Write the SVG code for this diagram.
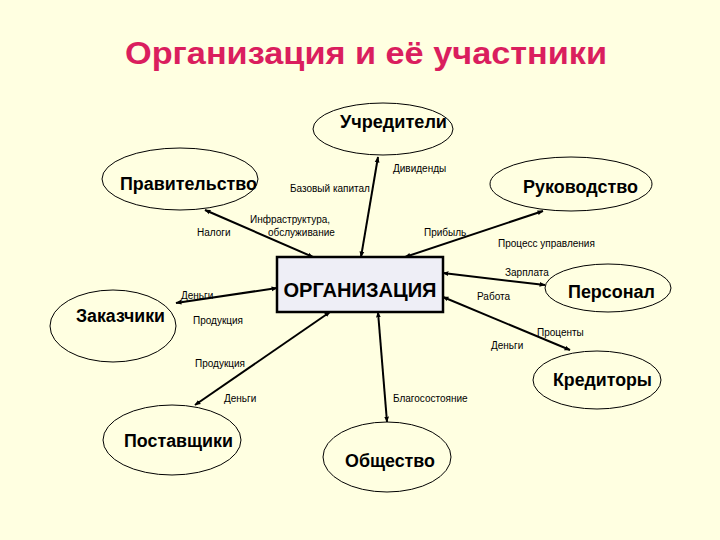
<svg xmlns="http://www.w3.org/2000/svg" width="720" height="540" viewBox="0 0 720 540">
<defs>
<marker id="ah" viewBox="0 0 10 10" refX="9" refY="5" markerWidth="6" markerHeight="6" orient="auto-start-reverse" markerUnits="userSpaceOnUse">
<path d="M0,1 L10,5 L0,9 z" fill="#000"/>
</marker>
<style>
.bg{fill:#FFFFE1}
.node ellipse{fill:#FFFFE1;stroke:#000;stroke-width:1}
.nt{font-family:"Liberation Sans",Arial,sans-serif;font-weight:bold;font-size:18px;fill:#000;text-anchor:middle}
.lbl{font-family:"Liberation Sans",Arial,sans-serif;font-size:10px;fill:#000}
.conn line{stroke:#000;stroke-width:2;marker-start:url(#ah);marker-end:url(#ah)}
.title{font-family:"Liberation Sans",Arial,sans-serif;font-weight:bold;font-size:32px;fill:#DA1E5E;text-anchor:middle}
</style>
</defs>
<rect class="bg" x="0" y="0" width="720" height="540"/>
<text class="title" x="366" y="64" textLength="482" lengthAdjust="spacingAndGlyphs">Организация и её участники</text>

<g id="connectors" class="conn">
<line x1="361" y1="257" x2="378" y2="157"/>
<line x1="313" y1="257" x2="205" y2="210"/>
<line x1="405" y1="257" x2="543" y2="211"/>
<line x1="277" y1="288" x2="176" y2="303"/>
<line x1="330" y1="312" x2="195" y2="405"/>
<line x1="378" y1="312" x2="387" y2="422"/>
<line x1="443" y1="273" x2="545" y2="285"/>
<line x1="443" y1="297" x2="570" y2="350"/>
</g>

<g id="labels" class="lbl">
<text x="393" y="172">Дивиденды</text>
<text x="290" y="192">Базовый капитал</text>
<text x="250" y="223">Инфраструктура,</text>
<text x="268" y="236">обслуживание</text>
<text x="197" y="236">Налоги</text>
<text x="424" y="236">Прибыль</text>
<text x="498" y="247">Процесс управления</text>
<text x="505" y="276">Зарплата</text>
<text x="477" y="300">Работа</text>
<text x="181" y="299">Деньги</text>
<text x="193" y="324">Продукция</text>
<text x="195" y="367">Продукция</text>
<text x="537" y="336">Проценты</text>
<text x="491" y="349">Деньги</text>
<text x="224" y="402">Деньги</text>
<text x="393" y="402">Благосостояние</text>
</g>

<g id="org">
<rect x="277" y="257" width="166" height="55" fill="#EEEEF6" stroke="#000" stroke-width="2.5"/>
<text class="nt" x="360" y="297" style="font-size:20px" textLength="153" lengthAdjust="spacingAndGlyphs">ОРГАНИЗАЦИЯ</text>
</g>
<g id="uchrediteli" class="node">
<ellipse cx="383" cy="129" rx="70" ry="26"/>
<text class="nt" x="393.5" y="128" textLength="107" lengthAdjust="spacingAndGlyphs">Учредители</text>
</g>
<g id="pravitelstvo" class="node">
<ellipse cx="180" cy="179" rx="78" ry="31"/>
<text class="nt" x="188.5" y="190" textLength="137" lengthAdjust="spacingAndGlyphs">Правительство</text>
</g>
<g id="rukovodstvo" class="node">
<ellipse cx="571" cy="184" rx="81" ry="27"/>
<text class="nt" x="580.5" y="193" textLength="115" lengthAdjust="spacingAndGlyphs">Руководство</text>
</g>
<g id="zakazchiki" class="node">
<ellipse cx="113" cy="326" rx="63" ry="36"/>
<text class="nt" x="120.5" y="322" textLength="89" lengthAdjust="spacingAndGlyphs">Заказчики</text>
</g>
<g id="personal" class="node">
<ellipse cx="608" cy="288" rx="63" ry="24"/>
<text class="nt" x="611.5" y="298" textLength="87" lengthAdjust="spacingAndGlyphs">Персонал</text>
</g>
<g id="kreditory" class="node">
<ellipse cx="597" cy="380" rx="64" ry="29"/>
<text class="nt" x="602.5" y="386" textLength="99" lengthAdjust="spacingAndGlyphs">Кредиторы</text>
</g>
<g id="postavshchiki" class="node">
<ellipse cx="172" cy="440" rx="69" ry="35"/>
<text class="nt" x="178.5" y="447" textLength="109" lengthAdjust="spacingAndGlyphs">Поставщики</text>
</g>
<g id="obshchestvo" class="node">
<ellipse cx="387" cy="457" rx="64" ry="35"/>
<text class="nt" x="390" y="467" textLength="90" lengthAdjust="spacingAndGlyphs">Общество</text>
</g>
</svg>
